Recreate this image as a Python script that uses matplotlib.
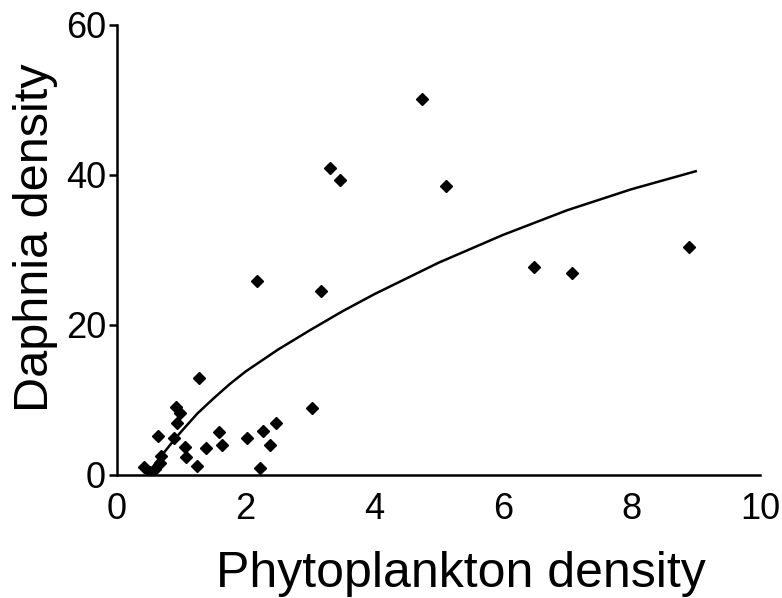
import matplotlib
matplotlib.use("Agg")
import matplotlib.pyplot as plt

plt.rcParams['font.family'] = ['Liberation Sans', 'DejaVu Sans']

# scatter data
phyto = [0.42, 0.52, 0.59, 0.67, 0.69, 0.64, 0.88, 0.91, 0.98, 0.94,
         1.06, 1.08, 1.25, 1.38, 1.58, 1.64, 2.02, 2.27, 2.47, 2.38,
         2.22, 3.03, 1.28, 2.17, 3.18, 3.32, 3.47, 4.75, 5.11, 6.48,
         7.08, 8.89]
daphnia = [1.1, 0.4, 0.8, 1.6, 2.5, 5.2, 5.0, 9.1, 8.3, 6.9,
           3.7, 2.4, 1.2, 3.6, 5.7, 4.0, 4.9, 5.9, 7.0, 4.0,
           1.0, 9.0, 13.0, 25.9, 24.6, 41.0, 39.4, 50.2, 38.5, 27.8,
           27.0, 30.4]

# fitted curve, points
curve_x = [0.5, 0.6, 0.75, 0.9, 1.0, 1.25, 1.5, 1.75, 2.0, 2.5, 3.0, 3.5,
           4.0, 4.5, 5.0, 6.0, 7.0, 8.0, 9.0]
curve_y = [0.3, 1.6, 3.2, 4.8, 5.8, 8.2, 10.2, 12.1, 13.8, 16.7, 19.3, 21.8,
           24.1, 26.2, 28.3, 32.0, 35.3, 38.1, 40.5]

xticks = [0, 2, 4, 6, 8, 10]
yticks = [0, 20, 40, 60]

fig = plt.figure(figsize=(7.82, 5.98), dpi=100)
ax = fig.add_axes([117 / 782, 1 - 475 / 598, (760 - 117) / 782, 450 / 598])

ax.plot(curve_x, curve_y, color="black", linewidth=1.8)
ax.plot(phyto, daphnia, marker="D", markersize=6.5, linestyle="None", color="black")

ax.set_xlim(0, 10)
ax.set_ylim(0, 60)
ax.set_xticks(xticks)
ax.set_yticks(yticks)

for s in ["top", "right"]:
    ax.spines[s].set_visible(False)
for s in ["left", "bottom"]:
    ax.spines[s].set_linewidth(1.8)

ax.tick_params(axis="x", length=0, pad=12, labelsize=26)
ax.tick_params(axis="y", length=6, width=1.8, pad=2, labelsize=26, direction="out")

ax.set_xlabel("Phytoplankton density", fontsize=36)
ax.xaxis.set_label_coords(0.535, -0.168)
ax.set_ylabel("Daphnia density", fontsize=35)
ax.yaxis.set_label_coords(-0.092, 0.527)

fig.savefig("out.png", dpi=100)
